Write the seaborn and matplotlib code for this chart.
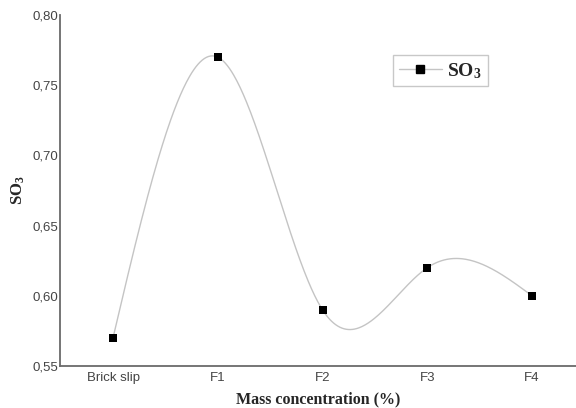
import numpy as np
import pandas as pd
import matplotlib
matplotlib.use("Agg")
import matplotlib.pyplot as plt
from matplotlib.lines import Line2D
import seaborn as sns

categories = ["Brick slip", "F1", "F2", "F3", "F4"]
so3_values = [0.57, 0.77, 0.59, 0.62, 0.60]
y_ticks = [0.55, 0.60, 0.65, 0.70, 0.75, 0.80]
y_tick_labels = ["0,55", "0,60", "0,65", "0,70", "0,75", "0,80"]


def natural_spline(x, y, n=400):
    """Natural cubic spline through (x, y), evaluated on a dense grid."""
    x = np.asarray(x, float)
    y = np.asarray(y, float)
    k = len(x)
    h = np.diff(x)
    A = np.zeros((k, k))
    b = np.zeros(k)
    A[0, 0] = A[-1, -1] = 1.0
    for i in range(1, k - 1):
        A[i, i - 1] = h[i - 1]
        A[i, i] = 2 * (h[i - 1] + h[i])
        A[i, i + 1] = h[i]
        b[i] = 6 * ((y[i + 1] - y[i]) / h[i] - (y[i] - y[i - 1]) / h[i - 1])
    m = np.linalg.solve(A, b)
    xs = np.linspace(x[0], x[-1], n)
    idx = np.clip(np.searchsorted(x, xs) - 1, 0, k - 2)
    x0, x1 = x[idx], x[idx + 1]
    hh = x1 - x0
    t0, t1 = x1 - xs, xs - x0
    ys = (m[idx] * t0 ** 3 / (6 * hh) + m[idx + 1] * t1 ** 3 / (6 * hh)
          + (y[idx] / hh - m[idx] * hh / 6) * t0
          + (y[idx + 1] / hh - m[idx + 1] * hh / 6) * t1)
    return xs, ys


sns.set_style("white")
plt.rcParams["font.family"] = ["Liberation Sans", "DejaVu Sans"]
plt.rcParams["mathtext.fontset"] = "custom"
plt.rcParams["mathtext.rm"] = "Liberation Serif:bold"
plt.rcParams["mathtext.it"] = "Liberation Serif:bold"
plt.rcParams["mathtext.bf"] = "Liberation Serif:bold"

pos = np.arange(len(categories))
points = pd.DataFrame({"pos": pos, "SO3": so3_values})
xs, ys = natural_spline(pos, so3_values)
curve = pd.DataFrame({"pos": xs, "SO3": ys})

fig = plt.figure(figsize=(5.76, 4.08), dpi=100)
ax = fig.add_axes([60 / 576, 1 - 366 / 408, 1 - 60 / 576, (366 - 15) / 408])

line_color = "#c4c4c4"
sns.lineplot(data=curve, x="pos", y="SO3", ax=ax, color=line_color,
             linewidth=1.0, legend=False)
sns.scatterplot(data=points, x="pos", y="SO3", ax=ax, marker="s", s=38,
                color="black", edgecolor="black", linewidth=0, zorder=3,
                legend=False)

ax.set_xlim(-0.506, 4.42)
ax.set_ylim(0.55, 0.80)
ax.set_xticks(pos)
ax.set_xticklabels(categories)
ax.set_yticks(y_ticks)
ax.set_yticklabels(y_tick_labels)
ax.tick_params(axis="both", length=0, labelsize=9.5, labelcolor="#444444")
ax.tick_params(axis="y", pad=1)
ax.tick_params(axis="x", pad=4)

for side in ("top", "right"):
    ax.spines[side].set_visible(False)
for side in ("left", "bottom"):
    ax.spines[side].set_color("#6a6a6a")
    ax.spines[side].set_linewidth(1.3)

serif = ["Liberation Serif", "DejaVu Serif"]
ax.set_xlabel("Mass concentration (%)", fontsize=11.5, fontweight="bold",
              family=serif, labelpad=6)
ax.set_ylabel("SO$_3$", fontsize=12, fontweight="bold", family=serif,
              labelpad=4)

handle = Line2D([], [], color=line_color, linewidth=1.0, marker="s",
                markersize=5.5, markerfacecolor="black", markeredgecolor="black")
leg = ax.legend([handle], ["SO$_3$"], loc="upper left",
                bbox_to_anchor=((393 - 60) / 516, 1 - (55 - 15) / 351),
                borderaxespad=0, frameon=True, fancybox=False,
                handlelength=2.2, borderpad=0.3, handletextpad=0.3,
                prop={"family": serif, "weight": "bold", "size": 14})
leg.get_frame().set_edgecolor("#bbbbbb")
leg.get_frame().set_linewidth(1.0)

fig.savefig("out.png", dpi=100)
